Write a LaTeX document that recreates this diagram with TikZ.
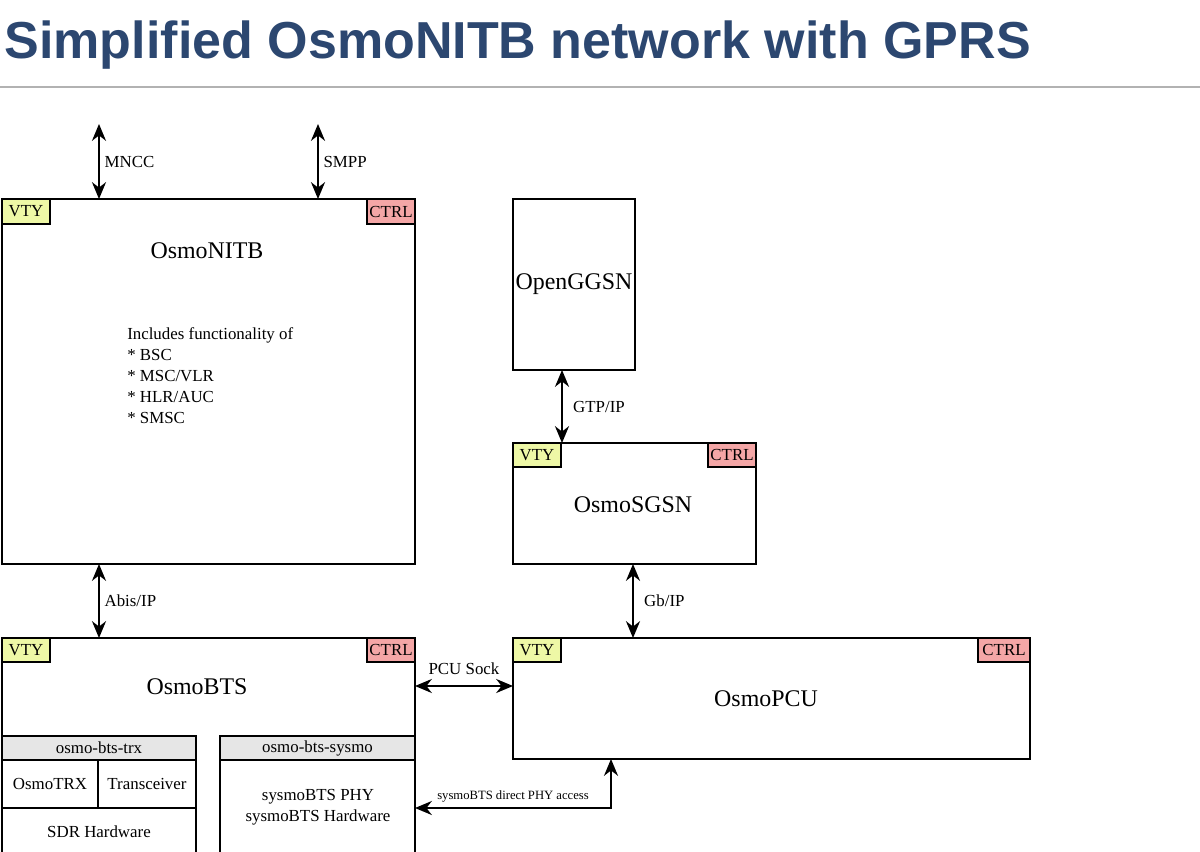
\documentclass[tikz,border=0pt]{standalone}
\usepackage{fontspec}
\setmainfont{Liberation Serif}
\newfontfamily\headfont{Liberation Sans}
\usetikzlibrary{arrows.meta}
\usetikzlibrary{positioning}
\definecolor{titleblue}{HTML}{2C4770}
\definecolor{vtyfill}{HTML}{EEF8A6}
\definecolor{ctrlfill}{HTML}{F4A6A6}
\definecolor{hdrfill}{HTML}{E6E6E6}
\newcommand*{\pxbox}[6][]{%
    \node (#2) [box, #1, minimum width={(#5-#3)*0.025cm}, minimum height={(#6-#4)*0.025cm}] at (#3,#4) {};%
}

\begin{document}
\begin{tikzpicture}[x = 0.025cm, y = -0.025cm, line width = 0.8pt,
    box/.style = {draw, anchor = north west, inner sep = 0pt, outer sep = 0pt},
    tag/.style = {font = \fontsize{12}{12}\selectfont},
    big/.style = {font = \fontsize{17}{17}\selectfont},
    link/.style = {{Stealth[length=12pt,width=10pt]}-{Stealth[length=12pt,width=10pt]}, line width = 1.3pt}]
    \useasboundingbox (0,0) rectangle (1200,852);

    % title
    \node (title) [anchor = west, inner sep = 0pt] at (4,45) {\headfont\bfseries\fontsize{37}{37}\selectfont\color{titleblue}Simplified OsmoNITB network with GPRS};
    \draw[gray!60, line width = 2pt] (0,87) -- (1200,87);

    % OsmoNITB
    \pxbox{nitb}{2}{199}{415}{564}
    \pxbox[fill = vtyfill]{nitbvty}{2}{199}{50}{224}
    \pxbox[fill = ctrlfill]{nitbctrl}{367}{199}{415}{224}
    \node[tag] at (nitbvty) {VTY};
    \node[tag] at (nitbctrl) {CTRL};
    \node (nitbname) [big] at (207,251) {OsmoNITB};
    \node (nitbtext) [anchor = north west, align = left, font = \fontsize{12}{15}\selectfont] at (122,322)
        {Includes functionality of\\* BSC\\* MSC/VLR\\* HLR/AUC\\* SMSC};

    % OpenGGSN
    \pxbox{ggsn}{513}{199}{635}{370}
    \node[big] at (574,284) {OpenGGSN};

    % OsmoSGSN
    \pxbox{sgsn}{513}{443}{756}{564}
    \pxbox[fill = vtyfill]{sgsnvty}{513}{443}{561}{467}
    \pxbox[fill = ctrlfill]{sgsnctrl}{708}{443}{756}{467}
    \node[tag] at (sgsnvty) {VTY};
    \node[tag] at (sgsnctrl) {CTRL};
    \node[big] at (633,505) {OsmoSGSN};

    % OsmoPCU
    \pxbox{pcu}{513}{638}{1030}{759}
    \pxbox[fill = vtyfill]{pcuvty}{513}{638}{561}{662}
    \pxbox[fill = ctrlfill]{pcuctrl}{978}{638}{1030}{662}
    \node[tag] at (pcuvty) {VTY};
    \node[tag] at (pcuctrl) {CTRL};
    \node[big] at (766,699) {OsmoPCU};

    % OsmoBTS
    \pxbox{bts}{2}{638}{415}{860}
    \pxbox[fill = vtyfill]{btsvty}{2}{638}{50}{662}
    \pxbox[fill = ctrlfill]{btsctrl}{367}{638}{415}{662}
    \node[tag] at (btsvty) {VTY};
    \node[tag] at (btsctrl) {CTRL};
    \node[big] at (197,687) {OsmoBTS};

    \pxbox[fill = hdrfill]{trxhdr}{2}{736}{196}{760}
    \node[tag] at (trxhdr) {osmo-bts-trx};
    \pxbox{trx}{2}{760}{98}{808}
    \node[tag] at (trx) {OsmoTRX};
    \pxbox{xcvr}{98}{760}{196}{808}
    \node[tag] at (xcvr) {Transceiver};
    \pxbox{sdr}{2}{808}{196}{860}
    \node[tag] at (99,832) {SDR Hardware};

    \pxbox[fill = hdrfill]{sysmohdr}{220}{736}{415}{760}
    \node[tag] at (sysmohdr) {osmo-bts-sysmo};
    \pxbox{sysmo}{220}{760}{415}{860}
    \node[align = center, font = \fontsize{12}{15}\selectfont] at (318,807) {sysmoBTS PHY\\sysmoBTS Hardware};

    % interfaces
    \coordinate (mncc) at (99,124);
    \coordinate (smpp) at (318,124);
    \draw[link] (mncc) -- (mncc |- nitb.north) node[tag, midway, right] {MNCC};
    \draw[link] (smpp) -- (smpp |- nitb.north) node[tag, midway, right] {SMPP};
    \draw[link] (nitb.south -| mncc) -- (bts.north -| mncc) node[tag, midway, right] {Abis/IP};
    \draw[link] (ggsn.south -| 562,0) -- (sgsn.north -| 562,0) node[tag, midway, right, xshift = 4pt] {GTP/IP};
    \draw[link] (sgsn.south -| 633,0) -- (pcu.north -| 633,0) node[tag, midway, right, xshift = 4pt] {Gb/IP};
    \draw[link] (bts.east |- 0,686) -- (pcu.west |- 0,686) node[tag, midway, above, yshift = 4pt] {PCU Sock};
    \draw[link] (pcu.south -| 611,0) |- (bts.east |- 0,808)
        node[pos = 0.75, above, font = \fontsize{9}{9}\selectfont] {sysmoBTS direct PHY access};
\end{tikzpicture}
\end{document}
